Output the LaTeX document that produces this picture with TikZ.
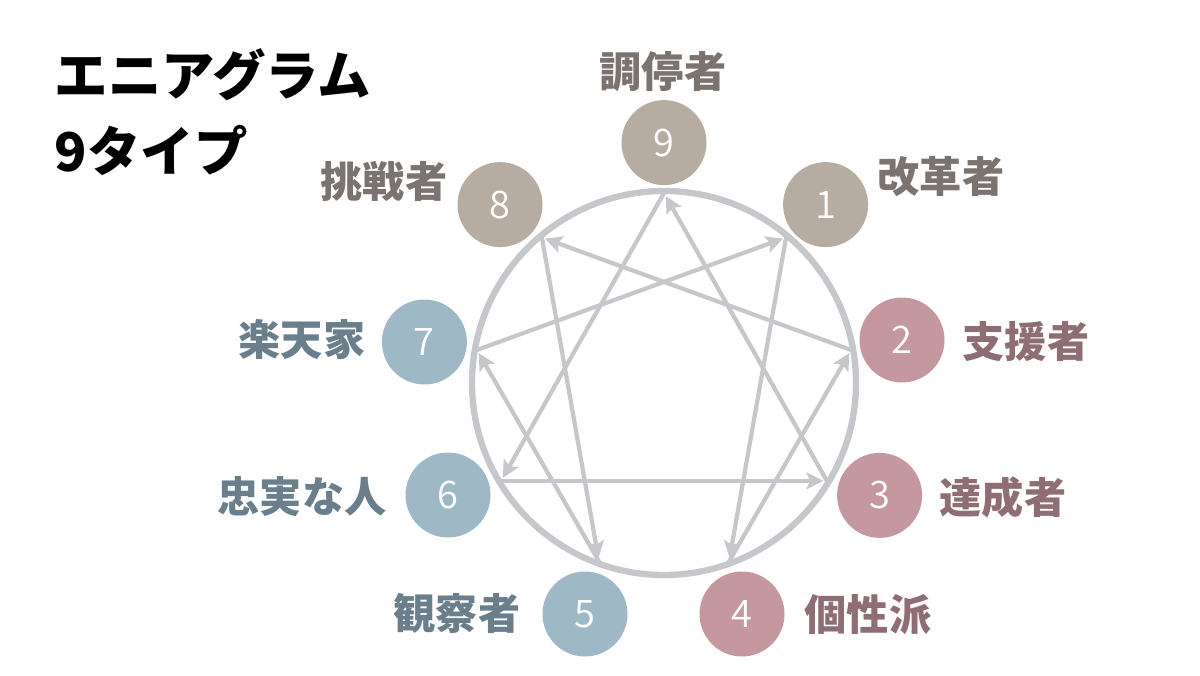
\documentclass[tikz,border=0pt]{standalone}
\usepackage{fontspec}
\setmainfont{Noto Sans CJK JP}
\newfontfamily\numfont{Noto Sans CJK JP DemiLight}
\usepackage{tikz}
\usetikzlibrary{arrows.meta,positioning}
\usepackage{xcolor}

\definecolor{beige}{HTML}{B6ACA1}
\definecolor{beigetext}{HTML}{7B7370}
\definecolor{rose}{HTML}{C4989E}
\definecolor{rosetext}{HTML}{8E6E74}
\definecolor{steel}{HTML}{9FB8C6}
\definecolor{steeltext}{HTML}{6A7F8B}
\definecolor{ringgray}{HTML}{C6C7CB}

\tikzset{
  typenode/.style={circle, minimum size=2.125cm, inner sep=0pt, text=white, font=\numfont\fontsize{27}{27}\selectfont},
  lbl/.style={inner sep=0pt, font=\bfseries\fontsize{30}{30}\selectfont},
  arr/.style={-{Stealth[length=12pt,width=12pt,inset=2.5pt]}, line width=3pt, draw=ringgray, shorten >=2.5pt},
}

\begin{document}
\begin{tikzpicture}
    \useasboundingbox (0,0) rectangle (30,16.875);

    % title
    \node[anchor=west, inner sep=0pt, font=\bfseries\fontsize{38}{38}\selectfont] (title1) at (1.36,15.0) {エニアグラム};
    \node[anchor=west, inner sep=0pt, font=\bfseries\fontsize{38}{38}\selectfont] (title2) at (1.36,13.125) {9タイプ};

    % ring and points on it
    \begin{scope}[shift={(16.6,7.3)}]
        \draw[ringgray, line width=4.5pt] (0,0) circle (4.8);
        \foreach \a/\n in {90/9, 50/1, 10/2, -31/3, -70/4, -110/5, -149/6, 170/7, 130/8}
            \coordinate (p\n) at (\a:4.75);
    \end{scope}

    % connectors
    \draw[arr] (p1) -- (p4);
    \draw[arr] (p4) -- (p2);
    \draw[arr] (p2) -- (p8);
    \draw[arr] (p8) -- (p5);
    \draw[arr] (p5) -- (p7);
    \draw[arr] (p7) -- (p1);
    \draw[arr] (p9) -- (p6);
    \draw[arr] (p6) -- (p3);
    \draw[arr] (p3) -- (p9);

    % type circles
    \node[typenode, fill=beige] (n9) at (16.6,13.31) {9};
    \node[typenode, fill=beige] (n1) at (20.64,11.76) {1};
    \node[typenode, fill=rose] (n2) at (22.55,8.375) {2};
    \node[typenode, fill=rose] (n3) at (21.99,4.49) {3};
    \node[typenode, fill=rose] (n4) at (18.55,1.525) {4};
    \node[typenode, fill=steel] (n5) at (14.625,1.525) {5};
    \node[typenode, fill=steel] (n6) at (11.2,4.5) {6};
    \node[typenode, fill=steel] (n7) at (10.61,8.325) {7};
    \node[typenode, fill=beige] (n8) at (12.5,11.76) {8};

    % names
    \node[lbl, text=beigetext] (l9) at (16.575,15.075) {調停者};
    \node[lbl, text=beigetext] (l1) at (23.525,12.45) {改革者};
    \node[lbl, text=rosetext] (l2) at (25.65,8.325) {支援者};
    \node[lbl, text=rosetext] (l3) at (25.075,4.45) {達成者};
    \node[lbl, text=rosetext] (l4) at (21.7,1.5) {個性派};
    \node[lbl, text=steeltext] (l5) at (11.425,1.55) {観察者};
    \node[lbl, text=steeltext] (l6) at (7.55,4.45) {忠実な人};
    \node[lbl, text=steeltext] (l7) at (7.55,8.375) {楽天家};
    \node[lbl, text=beigetext] (l8) at (9.6,12.325) {挑戦者};
\end{tikzpicture}
\end{document}
